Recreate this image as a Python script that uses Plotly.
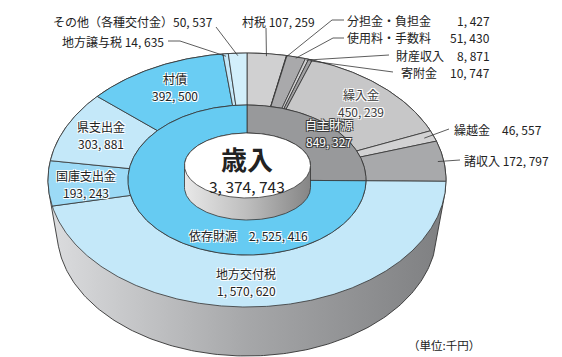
import numpy as np
import plotly.graph_objects as go

# ---------------- data ----------------
total_label = "歳入"
total_value = 3374743
group_names = ["自主財源", "依存財源"]
group_values = [849327, 2525416]
own_names = ["村税", "分担金・負担金", "使用料・手数料", "財産収入", "寄附金", "繰入金", "繰越金", "諸収入"]
own_values = [107259, 1427, 51430, 8871, 10747, 450239, 46557, 172797]
dep_names = ["地方交付税", "国庫支出金", "県支出金", "村債", "地方譲与税", "その他（各種交付金）"]
dep_values = [1570620, 193243, 303881, 392500, 14635, 50537]
unit_label = "（単位:千円）"

# ---------------- styles ----------------
group_colors = ["#98999b", "#66cbf2"]
own_colors = ["#d0d0d1", "#a9a9ab", "#a9a9ab", "#d0d0d1", "#a0a0a2", "#c7c7c8", "#d2d2d3", "#a8a9ab"]
dep_colors = ["#c4e8f9", "#9cdaf6", "#c4e8f9", "#6acdf3", "#c4e8f9", "#d2effb"]
FONT = "Noto Sans CJK JP"
EDGE = "#333333"

CX, CY = 239.0, 172.0
A_OUT, B_OUT = 199.0, 127.0
A_MID, B_MID = 119.0, 75.0
BOT_CX, BOT_CY, BOT_A, BOT_B = 239.0, 223.0, 190.0, 125.0
HOLE_CX, HOLE_CY, HOLE_A, HOLE_B, HOLE_D = 239.5, 157.5, 63.0, 32.5, 22.0


def fmt(v):
    return f"{v:,}".replace(",", ", ")


def ell(cx, cy, a, b, th):
    return cx + a * np.cos(th), cy - b * np.sin(th)


def hull(px, py):
    pts = sorted(set(zip(np.round(px, 3), np.round(py, 3))))

    def cross(o, a, b):
        return (a[0] - o[0]) * (b[1] - o[1]) - (a[1] - o[1]) * (b[0] - o[0])

    lower, upper = [], []
    for p in pts:
        while len(lower) >= 2 and cross(lower[-2], lower[-1], p) <= 0:
            lower.pop()
        lower.append(p)
    for p in reversed(pts):
        while len(upper) >= 2 and cross(upper[-2], upper[-1], p) <= 0:
            upper.pop()
        upper.append(p)
    h = lower[:-1] + upper[:-1]
    h.append(h[0])
    return [p[0] for p in h], [p[1] for p in h]


def frac_to_theta(f):
    return np.deg2rad(90.0 - 360.0 * f)


fig = go.Figure()
T = np.linspace(0, 2 * np.pi, 361)

# side band of the disc (extrusion)
x1, y1 = ell(CX, CY, A_OUT, B_OUT, T)
x2, y2 = ell(BOT_CX, BOT_CY, BOT_A, BOT_B, T)
hx, hy = hull(np.concatenate([x1, x2]), np.concatenate([y1, y2]))
fig.add_trace(go.Scatter(x=hx, y=hy, mode="lines", fill="toself",
                         line=dict(color=EDGE, width=0.9),
                         fillgradient=dict(type="horizontal",
                                           colorscale=[[0, "#dcdddf"], [0.5, "#a6a7a9"], [1, "#7e7f81"]]),
                         hoverinfo="skip"))


def sector(f0, f1, a_in, b_in, a_out, b_out, color):
    n = max(3, int(abs(f1 - f0) * 720) + 2)
    th = np.linspace(frac_to_theta(f0), frac_to_theta(f1), n)
    xo, yo = ell(CX, CY, a_out, b_out, th)
    if a_in > 0:
        xi, yi = ell(CX, CY, a_in, b_in, th[::-1])
    else:
        xi, yi = np.array([CX]), np.array([CY])
    xs = np.concatenate([xo, xi, xo[:1]])
    ys = np.concatenate([yo, yi, yo[:1]])
    fig.add_trace(go.Scatter(x=xs, y=ys, mode="lines", fill="toself", fillcolor=color,
                             line=dict(color=EDGE, width=0.8), hoverinfo="skip"))


outer_values = own_values + dep_values
outer_colors = own_colors + dep_colors
cum = np.concatenate([[0], np.cumsum(outer_values)]) / total_value
for i, c in enumerate(outer_colors):
    sector(cum[i], cum[i + 1], A_MID, B_MID, A_OUT, B_OUT, c)

gcum = np.concatenate([[0], np.cumsum(group_values)]) / total_value
for i, c in enumerate(group_colors):
    sector(gcum[i], gcum[i + 1], 0, 0, A_MID, B_MID, c)

# central cylinder
c1x, c1y = ell(HOLE_CX, HOLE_CY, HOLE_A, HOLE_B, T)
c2x, c2y = ell(HOLE_CX, HOLE_CY + HOLE_D, HOLE_A, HOLE_B, T)
hx, hy = hull(np.concatenate([c1x, c2x]), np.concatenate([c1y, c2y]))
fig.add_trace(go.Scatter(x=hx, y=hy, mode="lines", fill="toself",
                         line=dict(color=EDGE, width=0.8),
                         fillgradient=dict(type="horizontal",
                                           colorscale=[[0, "#e8e8e8"], [0.5, "#bdbdbd"], [1, "#858585"]]),
                         hoverinfo="skip"))
fig.add_trace(go.Scatter(x=c1x, y=c1y, mode="lines", fill="toself", fillcolor="white",
                         line=dict(color=EDGE, width=0.8), hoverinfo="skip"))

# ---------------- leader lines ----------------
def anchor(idx, k=0.97):
    f = (cum[idx] + cum[idx + 1]) / 2
    return ell(CX, CY, A_OUT * k, B_OUT * k, frac_to_theta(f))


n_own = len(own_values)
leaders = [
    (n_own + 5, [(208, 19)], 0.98),             # その他
    (n_own + 4, [(160, 33), (172, 33)], 0.98),  # 地方譲与税
    (0, [(258, 20)], 0.98),                     # 村税
    (1, [(336, 12), (324, 12)], 0.99),          # 分担金
    (2, [(336, 30), (325, 30)], 0.99),          # 使用料
    (3, [(381, 47)], 0.99),                     # 財産収入
    (4, [(385, 64)], 0.99),                     # 寄附金
    (6, [(441, 121)], 0.95),                    # 繰越金
    (7, [(452, 152)], 0.97),                    # 諸収入
]
for idx, pts, k in leaders:
    ax_, ay_ = anchor(idx, k)
    xs = [p[0] for p in pts] + [ax_]
    ys = [p[1] for p in pts] + [ay_]
    fig.add_trace(go.Scatter(x=xs, y=ys, mode="lines", line=dict(color=EDGE, width=0.8),
                             hoverinfo="skip"))

# ---------------- labels ----------------
HALO = "1px 1px 0 white, -1px -1px 0 white, 1px -1px 0 white, -1px 1px 0 white"
DARK_HALO = "1px 1px 0 #3a3a3a, -1px -1px 0 #3a3a3a, 1px -1px 0 #3a3a3a, -1px 1px 0 #3a3a3a"
anns = []
FS = 12
LS = 17.5


def lab(x, y, text, size=FS, xanchor="center", shadow="none", bold=False, color="#222222"):
    anns.append(dict(x=x, y=y, text=text, showarrow=False, xanchor=xanchor, yanchor="middle",
                     font=dict(family=FONT, size=size, color=color,
                               weight="bold" if bold else "normal", shadow=shadow)))


def lab2(x, y, line1, line2, **kw):
    lab(x, y - LS / 2, line1, **kw)
    lab(x, y + LS / 2, line2, **kw)


lab(207, 13, f"{dep_names[5]}{fmt(dep_values[5])}", xanchor="right")
lab(158, 33, f"{dep_names[4]} {fmt(dep_values[4])}", xanchor="right")
lab(232, 13, f"{own_names[0]} {fmt(own_values[0])}", xanchor="left")
lab(337, 12, own_names[1], xanchor="left")
lab(484, 12, fmt(own_values[1]), xanchor="right")
lab(337, 29.5, own_names[2], xanchor="left")
lab(484, 29.5, fmt(own_values[2]), xanchor="right")
lab(438, 47, own_names[3], xanchor="right")
lab(484, 47, fmt(own_values[3]), xanchor="right")
lab(431, 64.5, own_names[4], xanchor="right")
lab(484, 64.5, fmt(own_values[4]), xanchor="right")
lab2(353, 95, own_names[5], fmt(own_values[5]), shadow=HALO, color="#3a3a3a")
lab(444, 121, f"{own_names[6]}　{fmt(own_values[6])}", xanchor="left")
lab(454, 152, f"{own_names[7]} {fmt(own_values[7])}", xanchor="left")
lab2(167, 79, dep_names[3], fmt(dep_values[3]), shadow=HALO)
lab2(93, 127, dep_names[2], fmt(dep_values[2]), shadow=HALO)
lab2(78, 176, dep_names[1], fmt(dep_values[1]), shadow=HALO)
lab2(238, 274, dep_names[0], fmt(dep_values[0]), shadow=HALO)
lab2(321, 125, group_names[0], fmt(group_values[0]), shadow=DARK_HALO, color="white")
lab(240, 227, f"{group_names[1]}　{fmt(group_values[1])}", shadow=HALO)
lab(239, 150, total_label, size=26, bold=True)
lab(239, 178, fmt(total_value), size=15.5)
lab(436, 337, unit_label, size=11.5)

fig.update_layout(
    width=562, height=357,
    margin=dict(l=0, r=0, t=0, b=0),
    paper_bgcolor="white", plot_bgcolor="white",
    showlegend=False, hovermode=False,
    xaxis=dict(range=[0, 562], visible=False, fixedrange=True),
    yaxis=dict(range=[357, 0], visible=False, fixedrange=True),
    annotations=anns,
)
fig.write_html("out.html")
